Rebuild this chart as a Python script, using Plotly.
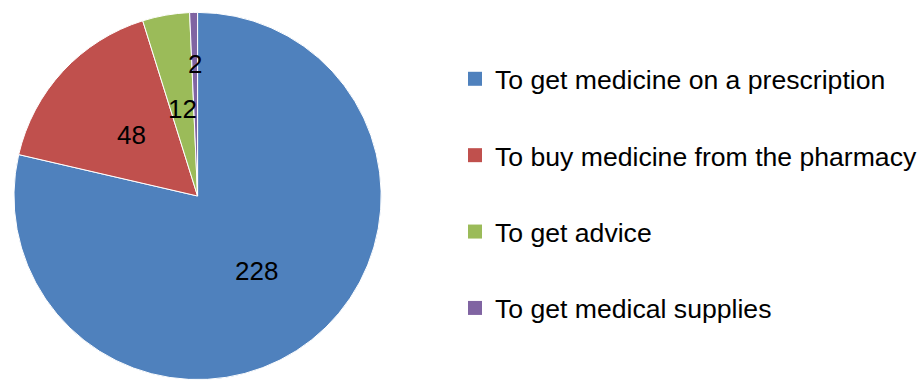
import math
import plotly.graph_objects as go

# Reasons for visiting, with respondent counts
categories = [
    "To get medicine on a prescription",
    "To buy medicine from the pharmacy",
    "To get advice",
    "To get medical supplies",
]
counts = [228, 48, 12, 2]
colors = ["#4F81BD", "#C0504D", "#9BBB59", "#8064A2"]

W, H = 922, 380
FONT = "Liberation Sans, Arial, sans-serif"

# pie geometry in pixels
cx, cy, r = 198, 196, 184
# radial placement of each value label, as a fraction of the radius
label_frac = [0.52, 0.49, 0.48, 0.72]

fig = go.Figure()
fig.add_trace(go.Pie(
    labels=categories,
    values=counts,
    marker=dict(colors=colors, line=dict(color="white", width=1)),
    sort=False,
    direction="clockwise",
    rotation=0,
    textinfo="none",
    hoverinfo="label+value",
    showlegend=False,
    domain=dict(x=[(cx - r) / W, (cx + r) / W], y=[0, (2 * r) / H]),
))

# value labels placed along each slice bisector
total = sum(counts)
cum = 0
annotations = []
for v, f in zip(counts, label_frac):
    mid = math.radians((cum + v / 2) / total * 360)
    cum += v
    px = cx + f * r * math.sin(mid)
    py = cy - f * r * math.cos(mid)
    annotations.append(dict(
        x=px / W, y=1 - py / H, xref="paper", yref="paper",
        text=str(v), showarrow=False,
        font=dict(family=FONT, size=26, color="black"),
        xanchor="center", yanchor="middle",
    ))

# legend entries with square swatches
for name, c in zip(categories, colors):
    fig.add_trace(go.Scatter(
        x=[None], y=[None], mode="markers", name=name,
        marker=dict(symbol="square", size=14, color=c),
        legendgroup=name, showlegend=True, hoverinfo="skip",
    ))

fig.update_layout(
    width=W, height=H,
    margin=dict(l=0, r=0, t=0, b=0),
    paper_bgcolor="white", plot_bgcolor="white",
    xaxis=dict(visible=False), yaxis=dict(visible=False),
    annotations=annotations,
    legend=dict(
        x=456 / W, y=1 - 55 / H, xanchor="left", yanchor="top",
        font=dict(family=FONT, size=26.6, color="black"),
        tracegroupgap=38.8, bgcolor="rgba(0,0,0,0)",
        itemclick=False, itemdoubleclick=False,
    ),
    showlegend=True,
)

fig.write_html("out.html")
